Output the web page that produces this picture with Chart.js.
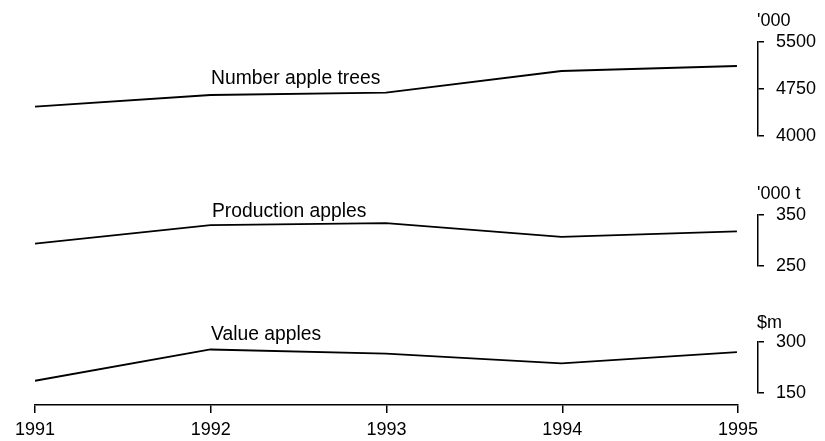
<!DOCTYPE html>
<html>
<head>
<meta charset="utf-8">
<script src="https://cdn.jsdelivr.net/npm/chart.js@4"></script>
<style>
  html, body { margin: 0; padding: 0; background: #fff; }
  #wrap { position: relative; width: 825px; height: 441px; overflow: hidden; font-family: 'Liberation Sans', Arial, sans-serif; color: #000; }
  #wrap canvas { position: absolute; left: 0; top: 0; }
  .lbl { position: absolute; white-space: nowrap; color: #000; }
  .title { font-size: 19.3px; line-height: 20px; }
  .unit { font-size: 18px; line-height: 18px; }
</style>
</head>
<body>
<div id="wrap">
  <canvas id="c1" width="825" height="441"></canvas>
  <canvas id="c2" width="825" height="441"></canvas>
  <canvas id="c3" width="825" height="441"></canvas>
  <canvas id="cx" width="825" height="441"></canvas>
  <div class="lbl title" id="t1" style="left:211px; top:68px;"></div>
  <div class="lbl title" id="t2" style="left:212px; top:201px;"></div>
  <div class="lbl title" id="t3" style="left:211px; top:324px;"></div>
  <div class="lbl unit" id="u1" style="left:757px; top:11px;"></div>
  <div class="lbl unit" id="u2" style="left:757px; top:184px;"></div>
  <div class="lbl unit" id="u3" style="left:757px; top:313px;"></div>
</div>
<script>
// ---- data ----
const years = [1991, 1992, 1993, 1994, 1995];
const appleTrees = [4468, 4654, 4691, 5037, 5117];      // '000
const applesProduction = [294, 330, 334, 307, 318];     // '000 t
const applesValue = [186, 278, 266, 237, 270];          // $m

const seriesTitles = ['Number apple trees', 'Production apples', 'Value apples'];
const seriesUnits = ["'000", "'000 t", '$m'];
const treeTicks = [4000, 4750, 5500];
const productionTicks = [250, 350];
const valueTicks = [150, 300];
const yearTicks = [1991, 1992, 1993, 1994, 1995];

// ---- text ----
['t1', 't2', 't3'].forEach((id, i) => document.getElementById(id).textContent = seriesTitles[i]);
['u1', 'u2', 'u3'].forEach((id, i) => document.getElementById(id).textContent = seriesUnits[i]);

const FONT = "'Liberation Sans', Arial, sans-serif";
Chart.defaults.font.family = FONT;
Chart.defaults.color = '#000';

function panel(canvasId, values, tickVals, padTop, padBottom) {
  return new Chart(document.getElementById(canvasId), {
    type: 'line',
    data: {
      datasets: [{
        data: years.map((y, i) => ({ x: y, y: values[i] })),
        borderColor: '#000',
        borderWidth: 1.8,
        pointRadius: 0,
        tension: 0,
        fill: false
      }]
    },
    options: {
      responsive: false,
      animation: false,
      devicePixelRatio: 1,
      layout: { padding: { left: 35, right: 7, top: padTop, bottom: padBottom } },
      plugins: { legend: { display: false }, tooltip: { enabled: false }, title: { display: false } },
      scales: {
        x: { type: 'linear', min: 1991, max: 1995.12, display: false },
        y: {
          type: 'linear',
          position: 'right',
          min: tickVals[0],
          max: tickVals[tickVals.length - 1],
          afterBuildTicks: (s) => { s.ticks = tickVals.map(v => ({ value: v })); },
          afterFit: (s) => { s.width = 60; },
          ticks: {
            callback: (v) => String(v),
            font: { size: 18 },
            color: '#000',
            padding: 12
          },
          grid: {
            drawOnChartArea: false,
            drawTicks: true,
            tickLength: 6,
            color: '#000',
            lineWidth: 1.5
          },
          border: { display: true, color: '#000', width: 1.5 }
        }
      }
    }
  });
}

panel('c1', appleTrees, treeTicks, 42, 305);
panel('c2', applesProduction, productionTicks, 215, 175);
panel('c3', applesValue, valueTicks, 342, 48);

// shared year axis
new Chart(document.getElementById('cx'), {
  type: 'line',
  data: { datasets: [{ data: [], borderWidth: 0, pointRadius: 0 }] },
  options: {
    responsive: false,
    animation: false,
    devicePixelRatio: 1,
    layout: { padding: { left: 35, right: 87, top: 300, bottom: 0 } },
    plugins: { legend: { display: false }, tooltip: { enabled: false } },
    scales: {
      x: {
        type: 'linear',
        position: 'bottom',
        min: yearTicks[0],
        max: yearTicks[yearTicks.length - 1],
        afterBuildTicks: (s) => { s.ticks = yearTicks.map(v => ({ value: v })); },
        afterFit: (s) => { s.height = 36; },
        ticks: {
          callback: (v) => String(v),
          font: { size: 18 },
          color: '#000',
          padding: 6,
          maxRotation: 0
        },
        grid: {
          drawOnChartArea: false,
          drawTicks: true,
          tickLength: 8,
          color: '#000',
          lineWidth: 1.5
        },
        border: { display: true, color: '#000', width: 1.5 }
      },
      y: { display: false, min: 0, max: 1 }
    }
  }
});
</script>
</body>
</html>
